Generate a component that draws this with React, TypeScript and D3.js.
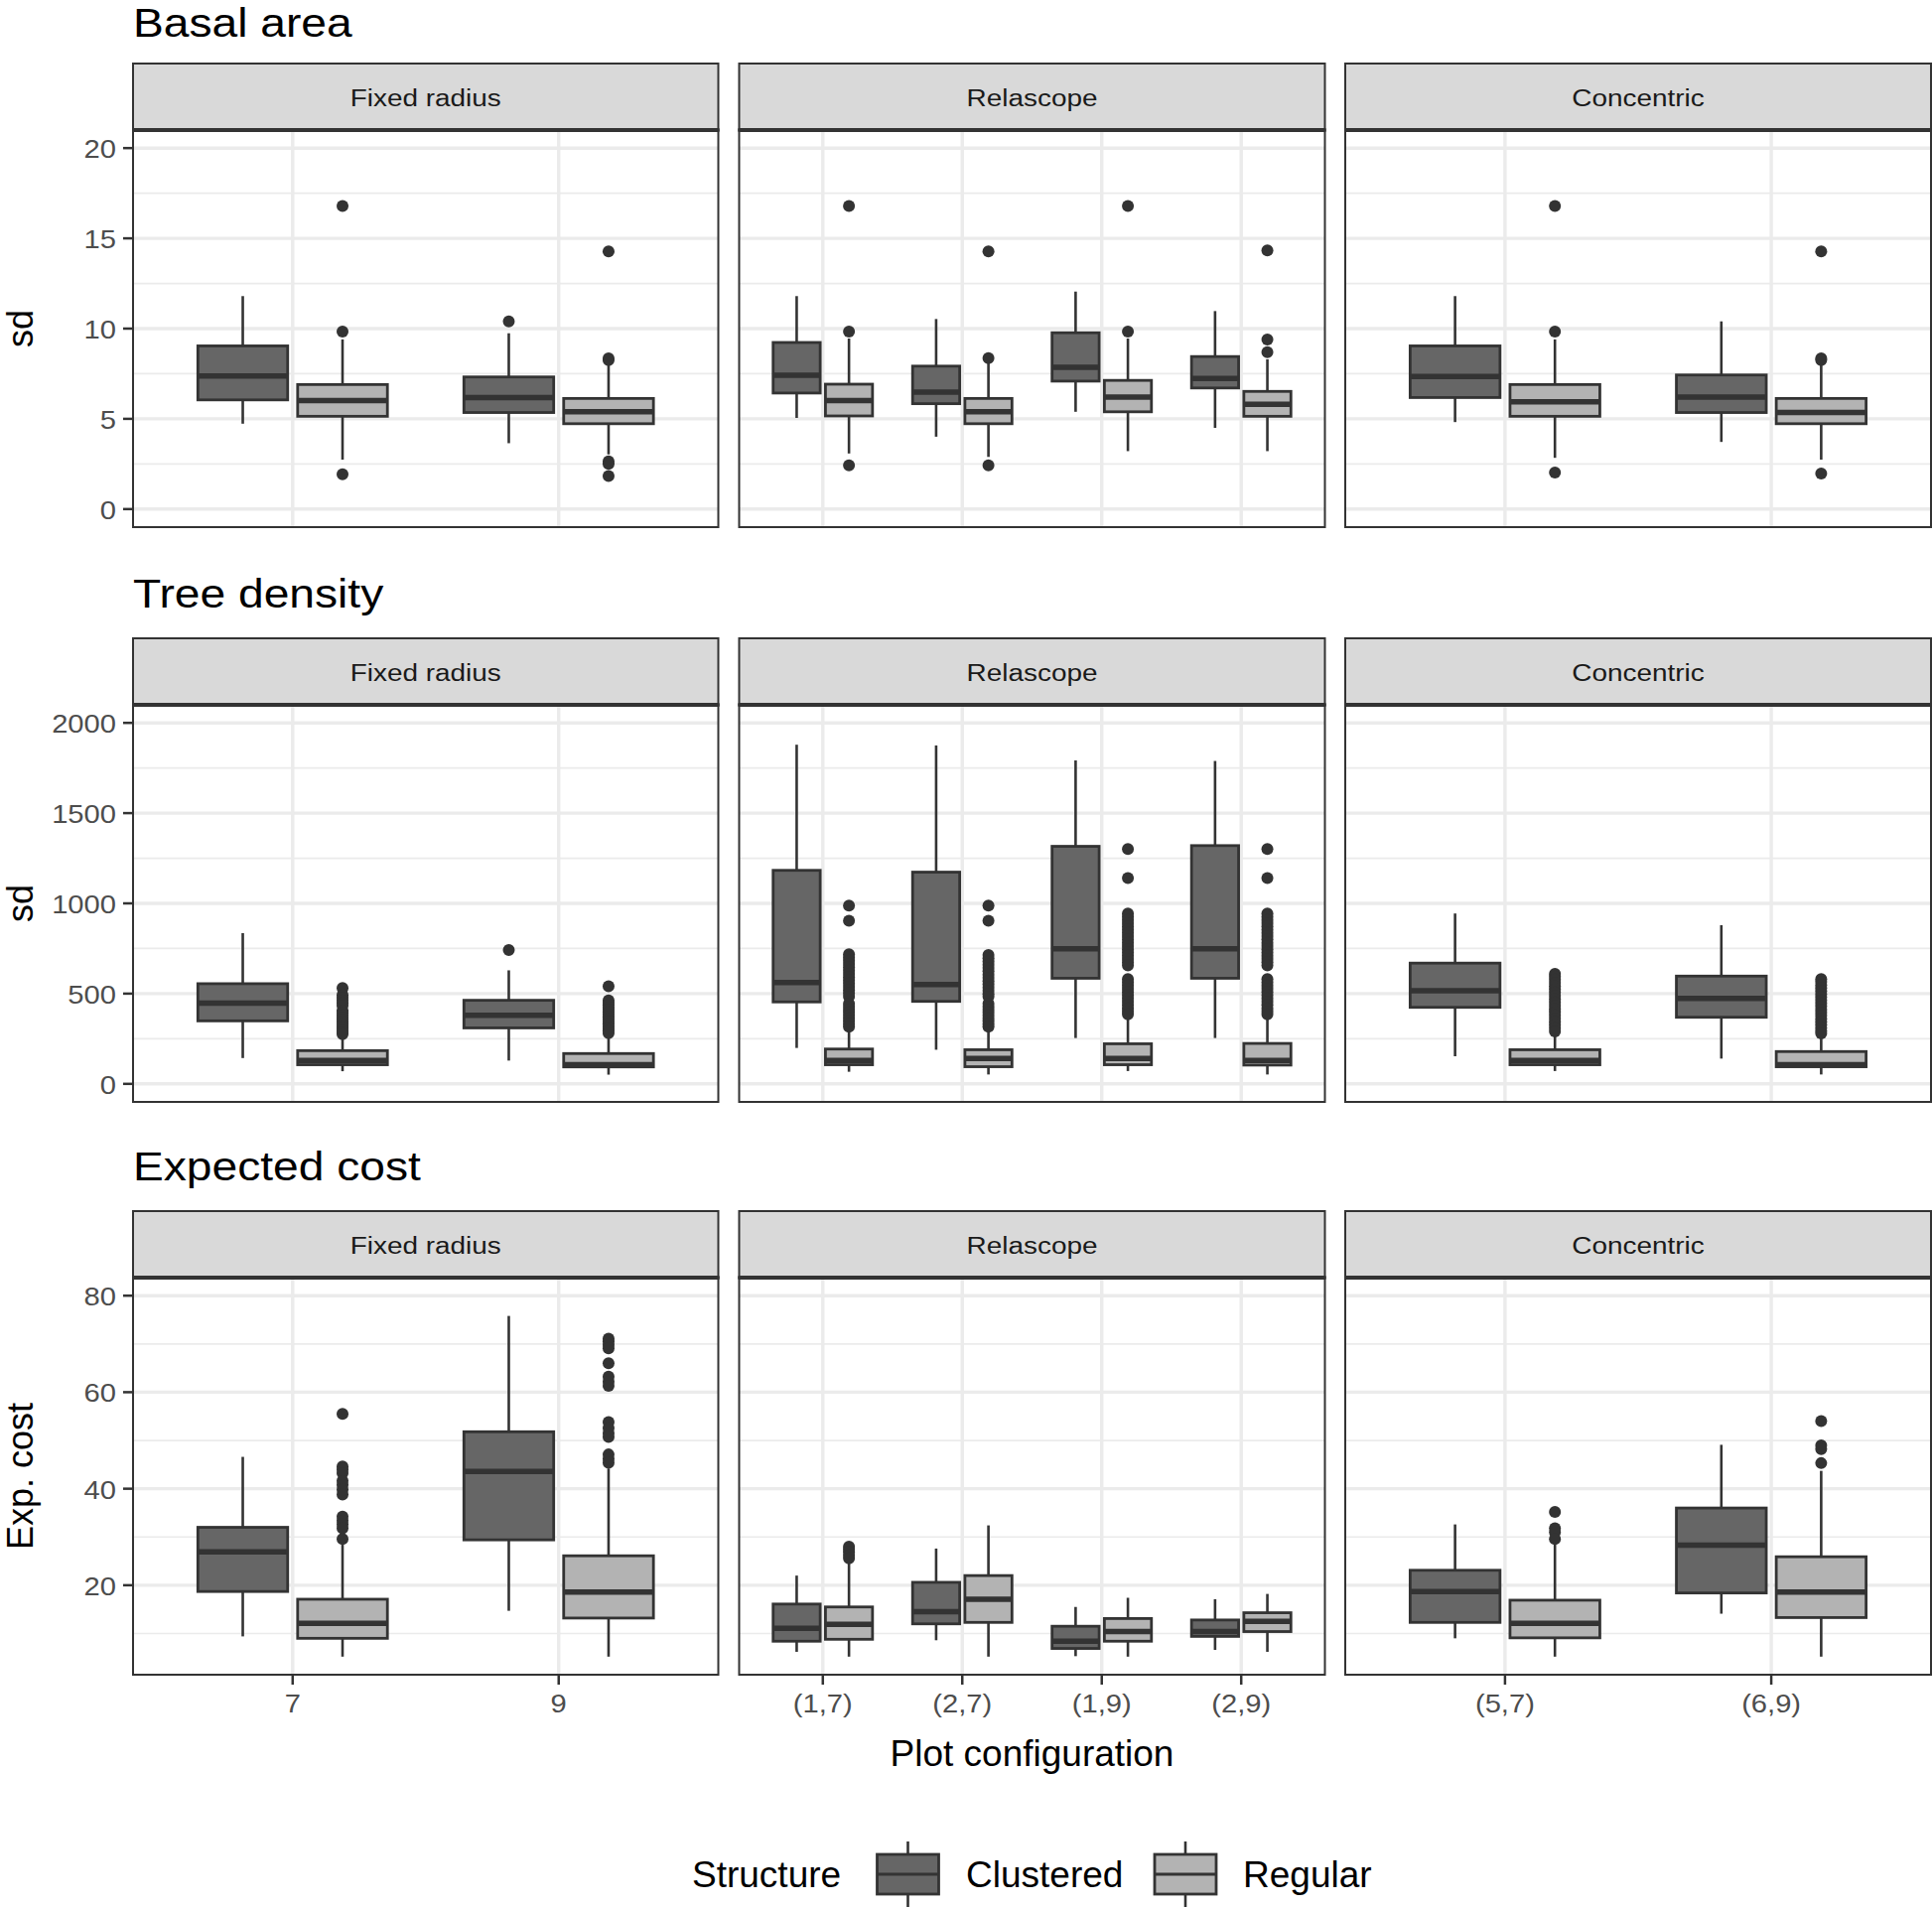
import React from "react";
import * as d3 from "d3";

// ---------- categories ----------
const methods = ["Fixed radius", "Relascope", "Concentric"];
const fixedConfigs = ["7", "9"];
const relascopeConfigs = ["(1,7)", "(2,7)", "(1,9)", "(2,9)"];
const concentricConfigs = ["(5,7)", "(6,9)"];
const structures = ["Clustered", "Regular"];

// Box statistics per configuration, in panel order:
// 7, 9, (1,7), (2,7), (1,9), (2,9), (5,7), (6,9)
// each entry: [lower whisker, Q1, median, Q3, upper whisker]

// ---------- Basal area ----------
const basalLimits = [0, 20];
const basalTicks = [0, 5, 10, 15, 20];
const basalMinor = [2.5, 7.5, 12.5, 17.5];
const basalClustered = [
  [4.73, 6.05, 7.37, 9.04, 11.8],
  [3.65, 5.35, 6.18, 7.32, 9.74],
  [5.05, 6.43, 7.41, 9.23, 11.8],
  [4.01, 5.84, 6.48, 7.92, 10.53],
  [5.39, 7.09, 7.85, 9.77, 12.05],
  [4.5, 6.71, 7.24, 8.45, 10.97],
  [4.82, 6.18, 7.34, 9.04, 11.8],
  [3.72, 5.35, 6.2, 7.43, 10.4],
];
const basalRegular = [
  [2.74, 5.14, 6.01, 6.9, 9.4],
  [3.03, 4.73, 5.39, 6.13, 8.09],
  [3.08, 5.16, 6.01, 6.92, 9.45],
  [2.89, 4.73, 5.39, 6.13, 8.1],
  [3.21, 5.39, 6.2, 7.13, 9.45],
  [3.21, 5.14, 5.8, 6.52, 8.3],
  [2.84, 5.14, 5.95, 6.9, 9.4],
  [2.74, 4.73, 5.35, 6.13, 8.09],
];
const basalClusteredOutliers = [[], [10.4], [], [], [], [], [], []];
const basalRegularOutliers = [
  [16.79, 9.83, 1.93],
  [14.28, 8.35, 8.25, 2.65, 2.5, 1.83],
  [16.79, 9.83, 2.42],
  [14.28, 8.36, 2.42],
  [16.79, 9.83],
  [14.33, 9.4, 8.7],
  [16.79, 9.83, 2.02],
  [14.28, 8.35, 8.25, 1.97],
];

// ---------- Tree density ----------
const densityLimits = [0, 2000];
const densityTicks = [0, 500, 1000, 1500, 2000];
const densityMinor = [250, 750, 1250, 1750];
const densityClustered = [
  [143, 349, 447, 555, 835],
  [129, 310, 380, 463, 629],
  [199, 454, 561, 1183, 1879],
  [189, 457, 551, 1173, 1875],
  [254, 585, 748, 1316, 1792],
  [254, 585, 748, 1320, 1789],
  [153, 424, 516, 669, 944],
  [140, 369, 473, 597, 879],
];
const densityRegular = [
  [70, 106, 129, 184, 266],
  [51, 94, 106, 168, 256],
  [67, 106, 130, 193, 306],
  [52, 95, 140, 189, 300],
  [71, 106, 140, 222, 375],
  [52, 104, 130, 224, 375],
  [71, 106, 130, 189, 277],
  [52, 95, 106, 179, 266],
];
const densityClusteredOutliers = [[], [741], [], [], [], [], [], []];
const densityRegularOutliers = [
  [531, 492, 478, 463, 448, 433, 405, 392, 380, 368, 356, 344, 332, 320, 308, 296, 285, 276],
  [541, 463, 450, 437, 424, 411, 398, 385, 372, 359, 346, 333, 320, 307, 294, 281],
  [987, 904, 718, 700, 682, 664, 646, 628, 610, 592, 574, 556, 538, 520, 502, 483, 444, 428, 412, 396, 380, 364, 348, 332, 316],
  [987, 904, 714, 696, 678, 660, 642, 624, 606, 588, 570, 552, 534, 516, 498, 483, 444, 428, 412, 396, 380, 364, 348, 332, 316],
  [1301, 1140, 944, 926, 908, 890, 872, 854, 836, 818, 800, 782, 764, 746, 728, 710, 692, 674, 656, 581, 563, 545, 527, 509, 491, 473, 455, 437, 419, 401, 385],
  [1301, 1140, 944, 926, 908, 890, 872, 854, 836, 818, 800, 782, 764, 746, 728, 710, 692, 674, 656, 581, 563, 545, 527, 509, 491, 473, 455, 437, 419, 401, 385],
  [610, 595, 578, 560, 542, 524, 506, 488, 470, 452, 434, 416, 398, 380, 362, 344, 326, 308, 290],
  [581, 565, 548, 531, 514, 497, 480, 463, 446, 429, 412, 395, 378, 361, 344, 327, 310, 293, 279],
];

// ---------- Expected cost ----------
const costLimits = [5.2, 80];
const costTicks = [20, 40, 60, 80];
const costMinor = [10, 30, 50, 70];
const costClustered = [
  [9.4, 18.7, 26.9, 32.0, 46.6],
  [14.7, 29.4, 43.6, 51.8, 75.8],
  [6.2, 8.4, 11.1, 16.1, 22.0],
  [8.6, 12.0, 14.5, 20.6, 27.6],
  [5.3, 6.9, 8.4, 11.5, 15.5],
  [6.6, 9.4, 10.4, 12.8, 17.1],
  [9.0, 12.3, 18.7, 23.1, 32.6],
  [14.1, 18.4, 28.3, 36.0, 49.1],
];
const costRegular = [
  [5.2, 9.0, 12.1, 17.1, 28.4],
  [5.2, 13.2, 18.6, 26.1, 44.2],
  [5.2, 8.8, 11.9, 15.5, 24.7],
  [5.2, 12.3, 17.1, 22.0, 32.4],
  [5.2, 8.4, 10.4, 13.1, 17.4],
  [6.2, 10.4, 12.5, 14.3, 18.2],
  [5.2, 9.1, 12.1, 16.9, 29.0],
  [5.2, 13.3, 18.6, 25.9, 43.7],
];
const costClusteredOutliers = [[], [], [], [], [], [], [], []];
const costRegularOutliers = [
  [55.5, 44.6, 44.0, 43.2, 41.6, 40.8, 39.8, 38.8, 34.2, 33.4, 32.6, 31.8, 29.6],
  [71.1, 70.5, 69.8, 69.1, 66.0, 63.2, 62.2, 61.3, 53.8, 52.6, 51.5, 50.7, 47.1, 46.2, 45.4],
  [28.0, 27.5, 26.9, 26.2, 25.6],
  [],
  [],
  [],
  [35.2, 31.8, 31.0, 29.6],
  [54.0, 49.0, 48.2, 45.3],
];

// ---------- layout / style ----------
const W = 1946;
const H = 1921;
const FONT = "'Liberation Sans', Arial, Helvetica, sans-serif";
const panelXs = [
  [134, 723.5],
  [744.5, 1334.5],
  [1355, 1945],
];
const stripTops = [64, 643, 1220];
const STRIP_H = 67;
const PANEL_H = 400;
const fills = ["#666666", "#B3B3B3"];
const DARK = "#333333";
const GRID = "#EBEBEB";

const panelConfigs = [fixedConfigs, relascopeConfigs, concentricConfigs];
const panelOffsets = [0, 2, 6];

const rowsSpec = [
  {
    title: "Basal area", yTitle: "sd", limits: basalLimits, ticks: basalTicks, minor: basalMinor,
    series: [basalClustered, basalRegular], outliers: [basalClusteredOutliers, basalRegularOutliers],
  },
  {
    title: "Tree density", yTitle: "sd", limits: densityLimits, ticks: densityTicks, minor: densityMinor,
    series: [densityClustered, densityRegular], outliers: [densityClusteredOutliers, densityRegularOutliers],
  },
  {
    title: "Expected cost", yTitle: "Exp. cost", limits: costLimits, ticks: costTicks, minor: costMinor,
    series: [costClustered, costRegular], outliers: [costClusteredOutliers, costRegularOutliers],
  },
];

// text with horizontal stretch (reference glyphs are wider than plain Arial)
function T({ x, y, size, k = 1, anchor = "start", rotate = 0, fill = "#000", children }) {
  return (
    <text
      transform={`translate(${x},${y}) rotate(${rotate}) scale(${k},1)`}
      fontSize={size}
      textAnchor={anchor}
      fill={fill}
    >
      {children}
    </text>
  );
}

function Box({ cx, w, stats, outs, y, fill }) {
  const [lo, q1, med, q3, hi] = stats;
  return (
    <g>
      <line x1={cx} x2={cx} y1={y(hi)} y2={y(q3)} stroke={DARK} strokeWidth={2.6} />
      <line x1={cx} x2={cx} y1={y(q1)} y2={y(lo)} stroke={DARK} strokeWidth={2.6} />
      <rect x={cx - w / 2} y={y(q3)} width={w} height={y(q1) - y(q3)} fill={fill} stroke={DARK} strokeWidth={2.8} />
      <line x1={cx - w / 2} x2={cx + w / 2} y1={y(med)} y2={y(med)} stroke={DARK} strokeWidth={5.5} />
      {outs.map((o, i) => (
        <circle key={i} cx={cx} cy={y(o)} r={6} fill={DARK} />
      ))}
    </g>
  );
}

export default function App() {
  return (
    <svg
      width={W}
      height={H}
      viewBox={`0 0 ${W} ${H}`}
      style={{ position: "absolute", left: 0, top: 0, display: "block" }}
      fontFamily={FONT}
    >
      <rect width={W} height={H} fill="#ffffff" />
      {rowsSpec.map((row, ri) => {
        const stripTop = stripTops[ri];
        const pTop = stripTop + STRIP_H;
        const pBot = pTop + PANEL_H;
        const pad = (row.limits[1] - row.limits[0]) * 0.05;
        const y = d3
          .scaleLinear()
          .domain([row.limits[0] - pad, row.limits[1] + pad])
          .range([pBot, pTop]);
        return (
          <g key={ri}>
            <T x={134} y={Math.max(stripTop - 31, 37)} size={40.5} k={1.14}>
              {row.title}
            </T>
            <T x={33} y={(pTop + pBot) / 2} size={36} rotate={-90} anchor="middle">
              {row.yTitle}
            </T>
            {row.ticks.map((t) => (
              <g key={t}>
                <line x1={124} x2={134} y1={y(t)} y2={y(t)} stroke={DARK} strokeWidth={2.5} />
                <T x={117} y={y(t) + 10} size={26.5} k={1.1} anchor="end" fill="#4D4D4D">
                  {t}
                </T>
              </g>
            ))}
            {methods.map((m, mi) => {
              const [x0, x1] = panelXs[mi];
              const cats = panelConfigs[mi];
              const xs = d3.scalePoint().domain(cats).range([x0, x1]).padding(0.6);
              const step = xs.step();
              const boxW = step * 0.3375;
              const dodge = step * 0.1875;
              return (
                <g key={m}>
                  <rect x={x0} y={pTop} width={x1 - x0} height={PANEL_H} fill="#fff" />
                  {row.minor.map((v) => (
                    <line key={"mn" + v} x1={x0} x2={x1} y1={y(v)} y2={y(v)} stroke={GRID} strokeWidth={1.7} />
                  ))}
                  {row.ticks.map((v) => (
                    <line key={"mj" + v} x1={x0} x2={x1} y1={y(v)} y2={y(v)} stroke={GRID} strokeWidth={3.4} />
                  ))}
                  {cats.map((c) => (
                    <line key={"v" + c} x1={xs(c)} x2={xs(c)} y1={pTop} y2={pBot} stroke={GRID} strokeWidth={3.4} />
                  ))}
                  {cats.map((c, ci) =>
                    structures.map((s, si) => (
                      <Box
                        key={c + s}
                        cx={xs(c) + (si === 0 ? -dodge : dodge)}
                        w={boxW}
                        stats={row.series[si][panelOffsets[mi] + ci]}
                        outs={row.outliers[si][panelOffsets[mi] + ci]}
                        y={y}
                        fill={fills[si]}
                      />
                    ))
                  )}
                  <rect x={x0} y={pTop} width={x1 - x0} height={PANEL_H} fill="none" stroke={DARK} strokeWidth={2} />
                  <rect x={x0} y={stripTop} width={x1 - x0} height={STRIP_H} fill="#D9D9D9" stroke={DARK} strokeWidth={2} />
                  <line x1={x0 - 1} x2={x1 + 1} y1={pTop} y2={pTop} stroke={DARK} strokeWidth={4} />
                  <T x={(x0 + x1) / 2} y={stripTop + STRIP_H / 2 + 9} size={24.5} k={1.14} anchor="middle" fill="#1A1A1A">
                    {m}
                  </T>
                  {ri === rowsSpec.length - 1 &&
                    cats.map((c) => (
                      <g key={"xt" + c}>
                        <line x1={xs(c)} x2={xs(c)} y1={pBot} y2={pBot + 10} stroke={DARK} strokeWidth={2.5} />
                        <T x={xs(c)} y={pBot + 38} size={26.5} k={1.1} anchor="middle" fill="#4D4D4D">
                          {c}
                        </T>
                      </g>
                    ))}
                </g>
              );
            })}
          </g>
        );
      })}
      <T x={(134 + 1945) / 2} y={1779} size={37} anchor="middle">
        Plot configuration
      </T>
      {/* legend */}
      <g>
        <T x={697} y={1901} size={37}>
          Structure
        </T>
        {structures.map((s, si) => {
          const kx = [914.5, 1194][si];
          const tx = [973, 1252][si];
          const cy = 1888;
          return (
            <g key={s}>
              <line x1={kx} x2={kx} y1={cy - 33} y2={cy + 33} stroke={DARK} strokeWidth={2.6} />
              <rect x={kx - 31} y={cy - 20} width={62} height={40} fill={fills[si]} stroke={DARK} strokeWidth={2.8} />
              <line x1={kx - 31} x2={kx + 31} y1={cy} y2={cy} stroke={DARK} strokeWidth={3} />
              <T x={tx} y={1901} size={37}>
                {s}
              </T>
            </g>
          );
        })}
      </g>
    </svg>
  );
}
